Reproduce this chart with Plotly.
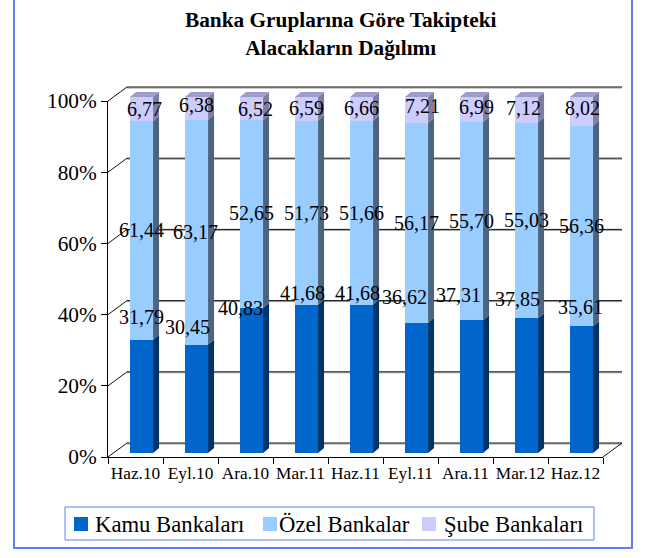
import plotly.graph_objects as go

# ---- data -------------------------------------------------------------
periods = ["Haz.10", "Eyl.10", "Ara.10", "Mar.11", "Haz.11",
           "Eyl.11", "Ara.11", "Mar.12", "Haz.12"]
kamu = [31.79, 30.45, 40.83, 41.68, 41.68, 36.62, 37.31, 37.85, 35.61]
ozel = [61.44, 63.17, 52.65, 51.73, 51.66, 56.17, 55.70, 55.03, 56.36]
sube = [6.77, 6.38, 6.52, 6.59, 6.66, 7.21, 6.99, 7.12, 8.02]
series_names = ["Kamu Bankaları", "Özel Bankalar", "Şube Bankaları"]
y_ticks = [0, 20, 40, 60, 80, 100]

# ---- styling ----------------------------------------------------------
W, H = 648, 558
FONT = "Liberation Serif"
front_colors = ["#0066cc", "#99ccff", "#ccccff"]
side_colors = ["#003366", "#4d6480", "#7e7ea2"]
top_color = "#9d9dcc"
BORDER = "#5f7ff0"

# label nudges in pixels (x, y), per series
kamu_dx = [0, -9, -11, -4, -4, -12, -13, -9, -1]
kamu_dy = [23, 18, 0, 12, 12, 26, 25, 19, 19]
ozel_dx = [0, -1, 0, 0, 0, 0, 0, 0, 0]
ozel_dy = [0, 0, 1, 0, 0, 0, 0, 0, 0]
sube_dx = [3, 0, 4, 0, 0, 6, 5, -3, 1]
sube_dy = [0, 3, 0, 1, 1, 4, 2, 2, 3]


def px(x):
    return x / W


def py(y):
    return 1 - y / H


# geometry of the 3-D frame (pixels)
FX0, FX1 = 108, 603          # front plane, x extent
FY0, FY1 = 457, 101          # front plane, 0% and 100%
DEPTH_X, DEPTH_Y = 19, 14    # wall depth
BAR_DX, BAR_DY = 6, 4        # bars sit slightly behind the front plane
BAR_W = 0.42                 # bar width in category units
SIDE_PX_X, SIDE_PX_Y = 6, 5  # bar depth in pixels

cat_px = (FX1 - FX0) / len(periods)
unit_px = (FY0 - FY1) / 100.0
Y2_TOP = 104                 # headroom for the bar top faces

fig = go.Figure()

# dummy trace so the front axes are drawn
fig.add_trace(go.Scatter(x=periods, y=[None] * len(periods), xaxis="x", yaxis="y",
                         showlegend=False, hoverinfo="skip", mode="markers"))

xs = list(range(len(periods)))
for vals, name, col in zip([kamu, ozel, sube], series_names, front_colors):
    fig.add_trace(go.Bar(x=xs, y=vals, name=name, width=BAR_W,
                         marker=dict(color=col, line=dict(width=0)),
                         xaxis="x2", yaxis="y2", showlegend=False,
                         hovertemplate="%{y:.2f}<extra>" + name + "</extra>"))

shapes = []

# back wall gridlines and the wall/floor edges
for v in y_ticks:
    yf = FY0 - v * unit_px
    yb = yf - DEPTH_Y
    shapes.append(dict(type="line", xref="paper", yref="paper",
                       x0=px(FX0 + DEPTH_X), x1=px(FX1 + DEPTH_X), y0=py(yb + 1), y1=py(yb + 1),
                       line=dict(color="#9a9a9a", width=1), layer="below"))
    shapes.append(dict(type="line", xref="paper", yref="paper",
                       x0=px(FX0 + DEPTH_X), x1=px(FX1 + DEPTH_X), y0=py(yb), y1=py(yb),
                       line=dict(color="#111111", width=1), layer="below"))
    shapes.append(dict(type="line", xref="paper", yref="paper",
                       x0=px(FX0), x1=px(FX0 + DEPTH_X), y0=py(yf), y1=py(yb),
                       line=dict(color="#111111", width=1), layer="below"))
shapes.append(dict(type="line", xref="paper", yref="paper",
                   x0=px(FX1), x1=px(FX1 + DEPTH_X), y0=py(FY0), y1=py(FY0 - DEPTH_Y),
                   line=dict(color="#111111", width=1), layer="below"))

# side and top faces of the bars, in bar-axis units
ddx = SIDE_PX_X / cat_px
ddy = SIDE_PX_Y / unit_px
for i in xs:
    xr = i + BAR_W / 2
    xl = i - BAR_W / 2
    base = 0.0
    for vals, sc in zip([kamu, ozel, sube], side_colors):
        top = base + vals[i]
        path = (f"M{xr},{base} L{xr},{top} L{xr + ddx},{top + ddy} "
                f"L{xr + ddx},{base + ddy} Z")
        shapes.append(dict(type="path", xref="x2", yref="y2", path=path,
                           fillcolor=sc, line=dict(width=0), layer="above"))
        base = top
    path = (f"M{xl},{base} L{xr},{base} L{xr + ddx},{base + ddy} "
            f"L{xl + ddx},{base + ddy} Z")
    shapes.append(dict(type="path", xref="x2", yref="y2", path=path,
                       fillcolor=top_color, line=dict(width=0), layer="above"))

# outer frame
shapes.append(dict(type="rect", xref="paper", yref="paper",
                   x0=px(14), x1=px(632), y0=py(548), y1=py(-10),
                   line=dict(color=BORDER, width=2), fillcolor="rgba(0,0,0,0)"))

# legend box and swatches
shapes.append(dict(type="rect", xref="paper", yref="paper",
                   x0=px(65), x1=px(594), y0=py(540), y1=py(507),
                   line=dict(color=BORDER, width=1), fillcolor="rgba(0,0,0,0)"))
legend_x = [74, 263, 422]
legend_tx = [93, 277, 442]
annotations = []
for lx, tx, col, name in zip(legend_x, legend_tx, front_colors, series_names):
    shapes.append(dict(type="rect", xref="paper", yref="paper",
                       x0=px(lx), x1=px(lx + 14), y0=py(531), y1=py(517),
                       line=dict(width=0), fillcolor=col))
    annotations.append(dict(text=name, xref="paper", yref="paper", x=px(tx), y=py(524),
                            xanchor="left", yanchor="middle", showarrow=False,
                            font=dict(family=FONT, size=22.7, color="#000000")))

# title
annotations.append(dict(text="<b>Banka Gruplarına Göre Takipteki<br>Alacakların Dağılımı</b>",
                        xref="paper", yref="paper", x=px(341), y=py(34),
                        xanchor="center", yanchor="middle", showarrow=False,
                        font=dict(family=FONT, size=21.3, color="#000000")))

# value labels
lbl_font = dict(family=FONT, size=20, color="#000000")
for i in xs:
    annotations.append(dict(text=f"{kamu[i]:.2f}".replace(".", ","), xref="x2", yref="y2",
                            x=i, y=kamu[i], xshift=kamu_dx[i], yshift=kamu_dy[i],
                            showarrow=False, font=lbl_font))
    annotations.append(dict(text=f"{ozel[i]:.2f}".replace(".", ","), xref="x2", yref="y2",
                            x=i, y=kamu[i] + ozel[i] / 2, xshift=ozel_dx[i], yshift=ozel_dy[i],
                            showarrow=False, font=lbl_font))
    annotations.append(dict(text=f"{sube[i]:.2f}".replace(".", ","), xref="x2", yref="y2",
                            x=i, y=kamu[i] + ozel[i] + sube[i] / 2, xshift=sube_dx[i],
                            yshift=sube_dy[i], showarrow=False, font=lbl_font))

y2_bottom = FY0 - BAR_DY
y2_top = y2_bottom - Y2_TOP * unit_px

fig.update_layout(
    width=W, height=H,
    margin=dict(l=0, r=0, t=0, b=0, autoexpand=False),
    paper_bgcolor="#ffffff", plot_bgcolor="rgba(0,0,0,0)",
    barmode="stack", bargap=0, showlegend=False,
    xaxis=dict(domain=[px(FX0), px(FX1)], type="category", range=[-0.5, len(periods) - 0.5],
               tickson="boundaries", ticks="outside", ticklen=6, tickcolor="#000000",
               showline=True, linecolor="#000000", linewidth=1, showgrid=False,
               zeroline=False, fixedrange=True, tickangle=0, automargin=False,
               tickfont=dict(family=FONT, size=17.3, color="#000000")),
    yaxis=dict(domain=[py(FY0), py(FY1)], range=[0, 100], tickvals=y_ticks,
               ticktext=[f"{v}%" for v in y_ticks], ticks="outside", ticklen=6,
               tickcolor="#000000", showline=True, linecolor="#000000", linewidth=1,
               showgrid=False, zeroline=False, fixedrange=True, automargin=False,
               tickfont=dict(family=FONT, size=21.3, color="#000000")),
    xaxis2=dict(domain=[px(FX0 + BAR_DX), px(FX1 + BAR_DX)], range=[-0.5, len(periods) - 0.5],
                anchor="y2", visible=False, fixedrange=True),
    yaxis2=dict(domain=[py(y2_bottom), py(y2_top)], range=[0, Y2_TOP],
                anchor="x2", visible=False, fixedrange=True),
    shapes=shapes,
    annotations=annotations,
)

fig.write_html("out.html")
